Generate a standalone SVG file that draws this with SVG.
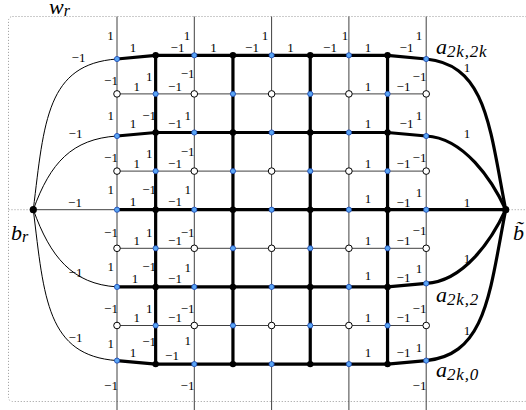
<svg xmlns="http://www.w3.org/2000/svg" width="526" height="410" viewBox="0 0 526 410">
<style>
.thin{stroke:#404040;stroke-width:1;fill:none}
.thick{stroke:#000;stroke-width:3.2;fill:none}
.crv{stroke:#000;stroke-width:1;fill:none}
.dot{stroke:#999;stroke-width:1;fill:none;stroke-dasharray:1 2}
.bl{fill:#5aa6f5;stroke:#1a44b0;stroke-width:0.8}
.wh{fill:#fff;stroke:#000;stroke-width:1}
.bk{fill:#000}
.n{font-family:"Liberation Serif",serif;font-size:13px;text-anchor:middle;fill:#000}
.m{font-family:"Liberation Serif",serif;font-style:italic;font-size:22px;fill:#000}
.s{font-size:16px}
.sa{font-size:17px;letter-spacing:0.8px}
</style>
<rect class="dot" x="8.5" y="16.5" width="520" height="385" rx="4"/>
<path class="dot" d="M8.5,209.7H33.3M505.7,209.7H526"/>
<g id="connectors">
<path class="thin" d="M117,16.5V410M194.3,16.5V410M271.6,16.5V410M348.9,16.5V410M426.2,16.5V410"/>
<path class="thin" d="M117,93.9H426.2M117,171.1H426.2M117,248.3H426.2M117,325.5H426.2"/>
<path class="thick" d="M155.65,55.3V364.1M232.95,55.3V364.1M310.25,55.3V364.1M387.55,55.3V364.1"/>
<path class="thick" d="M117,59L155.65,55.3H387.55L426.2,59"/>
<path class="thick" d="M117,136L155.65,132.5H387.55L426.2,136"/>
<path class="thick" d="M117,209.7H505.7"/>
<path class="thick" d="M117,286.9H387.55L426.2,283.4"/>
<path class="thick" d="M117,360.6L155.65,364.1H387.55L426.2,360.6"/>
<path class="crv" d="M33.3,209.7C44.1,120.6 47,64 117,59"/>
<path class="crv" d="M33.3,209.7C50.3,162.7 72,139 117,136"/>
<path class="thin" d="M33.3,209.7H117"/>
<path class="crv" d="M33.3,209.7C50.3,256.7 72,284 117,286.9"/>
<path class="crv" d="M33.3,209.7C44.1,298.8 47,355.6 117,360.6"/>
<path class="thick" d="M426.2,59C486.2,65 489.5,126.4 505.7,209.7"/>
<path class="thick" d="M426.2,136C464,138 492,180 505.7,209.7"/>
<path class="thick" d="M426.2,283.4C464,281.4 492,239.4 505.7,209.7"/>
<path class="thick" d="M426.2,360.6C486.2,354.6 489.5,293 505.7,209.7"/>
</g>
<g id="b_r"><circle class="bk" cx="33.3" cy="209.7" r="3.6"/></g>
<g id="b_tilde"><circle class="bk" cx="505.7" cy="209.7" r="3.6"/></g>
<g id="n0-0"><circle class="bl" cx="117" cy="59" r="2.6"/></g>
<g id="n1-0"><circle class="bk" cx="155.65" cy="55.3" r="3.2"/></g>
<g id="n2-0"><circle class="bl" cx="194.3" cy="55.3" r="2.6"/></g>
<g id="n3-0"><circle class="bk" cx="232.95" cy="55.3" r="3.2"/></g>
<g id="n4-0"><circle class="bl" cx="271.6" cy="55.3" r="2.6"/></g>
<g id="n5-0"><circle class="bk" cx="310.25" cy="55.3" r="3.2"/></g>
<g id="n6-0"><circle class="bl" cx="348.9" cy="55.3" r="2.6"/></g>
<g id="n7-0"><circle class="bk" cx="387.55" cy="55.3" r="3.2"/></g>
<g id="n8-0"><circle class="bl" cx="426.2" cy="59" r="2.6"/></g>
<g id="n0-1"><circle class="wh" cx="117" cy="93.9" r="3.3"/></g>
<g id="n1-1"><circle class="bl" cx="155.65" cy="93.9" r="2.6"/></g>
<g id="n2-1"><circle class="wh" cx="194.3" cy="93.9" r="3.3"/></g>
<g id="n3-1"><circle class="bl" cx="232.95" cy="93.9" r="2.6"/></g>
<g id="n4-1"><circle class="wh" cx="271.6" cy="93.9" r="3.3"/></g>
<g id="n5-1"><circle class="bl" cx="310.25" cy="93.9" r="2.6"/></g>
<g id="n6-1"><circle class="wh" cx="348.9" cy="93.9" r="3.3"/></g>
<g id="n7-1"><circle class="bl" cx="387.55" cy="93.9" r="2.6"/></g>
<g id="n8-1"><circle class="wh" cx="426.2" cy="93.9" r="3.3"/></g>
<g id="n0-2"><circle class="bl" cx="117" cy="136" r="2.6"/></g>
<g id="n1-2"><circle class="bk" cx="155.65" cy="132.5" r="3.2"/></g>
<g id="n2-2"><circle class="bl" cx="194.3" cy="132.5" r="2.6"/></g>
<g id="n3-2"><circle class="bk" cx="232.95" cy="132.5" r="3.2"/></g>
<g id="n4-2"><circle class="bl" cx="271.6" cy="132.5" r="2.6"/></g>
<g id="n5-2"><circle class="bk" cx="310.25" cy="132.5" r="3.2"/></g>
<g id="n6-2"><circle class="bl" cx="348.9" cy="132.5" r="2.6"/></g>
<g id="n7-2"><circle class="bk" cx="387.55" cy="132.5" r="3.2"/></g>
<g id="n8-2"><circle class="bl" cx="426.2" cy="136" r="2.6"/></g>
<g id="n0-3"><circle class="wh" cx="117" cy="171.1" r="3.3"/></g>
<g id="n1-3"><circle class="bl" cx="155.65" cy="171.1" r="2.6"/></g>
<g id="n2-3"><circle class="wh" cx="194.3" cy="171.1" r="3.3"/></g>
<g id="n3-3"><circle class="bl" cx="232.95" cy="171.1" r="2.6"/></g>
<g id="n4-3"><circle class="wh" cx="271.6" cy="171.1" r="3.3"/></g>
<g id="n5-3"><circle class="bl" cx="310.25" cy="171.1" r="2.6"/></g>
<g id="n6-3"><circle class="wh" cx="348.9" cy="171.1" r="3.3"/></g>
<g id="n7-3"><circle class="bl" cx="387.55" cy="171.1" r="2.6"/></g>
<g id="n8-3"><circle class="wh" cx="426.2" cy="171.1" r="3.3"/></g>
<g id="n0-4"><circle class="bl" cx="117" cy="209.7" r="2.6"/></g>
<g id="n1-4"><circle class="bk" cx="155.65" cy="209.7" r="3.2"/></g>
<g id="n2-4"><circle class="bl" cx="194.3" cy="209.7" r="2.6"/></g>
<g id="n3-4"><circle class="bk" cx="232.95" cy="209.7" r="3.2"/></g>
<g id="n4-4"><circle class="bl" cx="271.6" cy="209.7" r="2.6"/></g>
<g id="n5-4"><circle class="bk" cx="310.25" cy="209.7" r="3.2"/></g>
<g id="n6-4"><circle class="bl" cx="348.9" cy="209.7" r="2.6"/></g>
<g id="n7-4"><circle class="bk" cx="387.55" cy="209.7" r="3.2"/></g>
<g id="n8-4"><circle class="bl" cx="426.2" cy="209.7" r="2.6"/></g>
<g id="n0-5"><circle class="wh" cx="117" cy="248.3" r="3.3"/></g>
<g id="n1-5"><circle class="bl" cx="155.65" cy="248.3" r="2.6"/></g>
<g id="n2-5"><circle class="wh" cx="194.3" cy="248.3" r="3.3"/></g>
<g id="n3-5"><circle class="bl" cx="232.95" cy="248.3" r="2.6"/></g>
<g id="n4-5"><circle class="wh" cx="271.6" cy="248.3" r="3.3"/></g>
<g id="n5-5"><circle class="bl" cx="310.25" cy="248.3" r="2.6"/></g>
<g id="n6-5"><circle class="wh" cx="348.9" cy="248.3" r="3.3"/></g>
<g id="n7-5"><circle class="bl" cx="387.55" cy="248.3" r="2.6"/></g>
<g id="n8-5"><circle class="wh" cx="426.2" cy="248.3" r="3.3"/></g>
<g id="n0-6"><circle class="bl" cx="117" cy="286.9" r="2.6"/></g>
<g id="n1-6"><circle class="bk" cx="155.65" cy="286.9" r="3.2"/></g>
<g id="n2-6"><circle class="bl" cx="194.3" cy="286.9" r="2.6"/></g>
<g id="n3-6"><circle class="bk" cx="232.95" cy="286.9" r="3.2"/></g>
<g id="n4-6"><circle class="bl" cx="271.6" cy="286.9" r="2.6"/></g>
<g id="n5-6"><circle class="bk" cx="310.25" cy="286.9" r="3.2"/></g>
<g id="n6-6"><circle class="bl" cx="348.9" cy="286.9" r="2.6"/></g>
<g id="n7-6"><circle class="bk" cx="387.55" cy="286.9" r="3.2"/></g>
<g id="n8-6"><circle class="bl" cx="426.2" cy="283.4" r="2.6"/></g>
<g id="n0-7"><circle class="wh" cx="117" cy="325.5" r="3.3"/></g>
<g id="n1-7"><circle class="bl" cx="155.65" cy="325.5" r="2.6"/></g>
<g id="n2-7"><circle class="wh" cx="194.3" cy="325.5" r="3.3"/></g>
<g id="n3-7"><circle class="bl" cx="232.95" cy="325.5" r="2.6"/></g>
<g id="n4-7"><circle class="wh" cx="271.6" cy="325.5" r="3.3"/></g>
<g id="n5-7"><circle class="bl" cx="310.25" cy="325.5" r="2.6"/></g>
<g id="n6-7"><circle class="wh" cx="348.9" cy="325.5" r="3.3"/></g>
<g id="n7-7"><circle class="bl" cx="387.55" cy="325.5" r="2.6"/></g>
<g id="n8-7"><circle class="wh" cx="426.2" cy="325.5" r="3.3"/></g>
<g id="n0-8"><circle class="bl" cx="117" cy="360.6" r="2.6"/></g>
<g id="n1-8"><circle class="bk" cx="155.65" cy="364.1" r="3.2"/></g>
<g id="n2-8"><circle class="bl" cx="194.3" cy="364.1" r="2.6"/></g>
<g id="n3-8"><circle class="bk" cx="232.95" cy="364.1" r="3.2"/></g>
<g id="n4-8"><circle class="bl" cx="271.6" cy="364.1" r="2.6"/></g>
<g id="n5-8"><circle class="bk" cx="310.25" cy="364.1" r="3.2"/></g>
<g id="n6-8"><circle class="bl" cx="348.9" cy="364.1" r="2.6"/></g>
<g id="n7-8"><circle class="bk" cx="387.55" cy="364.1" r="3.2"/></g>
<g id="n8-8"><circle class="bl" cx="426.2" cy="360.6" r="2.6"/></g>
<g id="labels">
<text class="m" x="49" y="14" font-size="21">w<tspan class="s" dy="2">r</tspan></text>
<text class="m" x="11" y="240">b<tspan class="s" dy="2">r</tspan></text>
<text class="m" x="513" y="240">b̃</text>
<text class="m" x="436" y="54">a<tspan class="sa" dy="3">2k,2k</tspan></text>
<text class="m" x="436" y="302">a<tspan class="sa" dy="3">2k,2</tspan></text>
<text class="m" x="436" y="377">a<tspan class="sa" dy="3">2k,0</tspan></text>
<text class="n" x="110.5" y="40">1</text><text class="n" x="187" y="39.5">1</text><text class="n" x="265" y="39.5">1</text><text class="n" x="345" y="39.5">1</text><text class="n" x="419" y="39.5">1</text>
<text class="n" x="133" y="52">1</text><text class="n" x="177.5" y="52">−1</text><text class="n" x="213.5" y="52">1</text><text class="n" x="252" y="52">−1</text><text class="n" x="290.5" y="52">1</text><text class="n" x="330" y="52">−1</text><text class="n" x="368" y="52">1</text><text class="n" x="406.5" y="52">−1</text>
<text class="n" x="111" y="85">−1</text><text class="n" x="149.2" y="80.7">1</text><text class="n" x="187.7" y="78.3">−1</text><text class="n" x="136.7" y="90.7">1</text><text class="n" x="175" y="90.7">−1</text><text class="n" x="110.8" y="120">1</text><text class="n" x="149.2" y="120">−1</text><text class="n" x="187.8" y="120">1</text><text class="n" x="133" y="128.3">1</text><text class="n" x="175" y="128.3">−1</text>
<text class="n" x="111" y="162">−1</text><text class="n" x="149.2" y="157.5">1</text><text class="n" x="187.7" y="155.5">−1</text><text class="n" x="136.7" y="167.8">1</text><text class="n" x="175" y="167.8">−1</text><text class="n" x="110.8" y="193.5">1</text><text class="n" x="149.2" y="193.5">−1</text><text class="n" x="187.8" y="193.5">1</text><text class="n" x="133" y="206.4">1</text><text class="n" x="175" y="206.4">−1</text>
<text class="n" x="111" y="236.7">−1</text><text class="n" x="149.2" y="236.7">1</text><text class="n" x="187.7" y="236.7">−1</text><text class="n" x="136.7" y="245">1</text><text class="n" x="175" y="245">−1</text><text class="n" x="110.8" y="270.5">1</text><text class="n" x="149.2" y="270.5">−1</text><text class="n" x="187.8" y="271.5">1</text><text class="n" x="135" y="283.4">1</text><text class="n" x="175" y="283.4">−1</text>
<text class="n" x="111" y="313">−1</text><text class="n" x="149.2" y="313">1</text><text class="n" x="187.7" y="313">−1</text><text class="n" x="136.7" y="321.8">1</text><text class="n" x="175" y="321.8">−1</text><text class="n" x="110.8" y="347.5">1</text><text class="n" x="149.2" y="346">−1</text><text class="n" x="187.8" y="345">1</text><text class="n" x="133" y="356.5">1</text><text class="n" x="172" y="360">−1</text>
<text class="n" x="419.5" y="80.7">−1</text><text class="n" x="368" y="90.7">1</text><text class="n" x="403.5" y="90.7">−1</text><text class="n" x="419" y="120">1</text><text class="n" x="368" y="128.3">1</text><text class="n" x="406.5" y="128.3">−1</text>
<text class="n" x="419.5" y="161.7">−1</text><text class="n" x="368" y="168.3">1</text><text class="n" x="403.5" y="168.3">−1</text><text class="n" x="419" y="196.7">1</text><text class="n" x="368" y="203.3">1</text><text class="n" x="403.5" y="206.7">−1</text>
<text class="n" x="419.5" y="235">−1</text><text class="n" x="368" y="245">1</text><text class="n" x="403.5" y="245">−1</text><text class="n" x="419" y="273.3">1</text><text class="n" x="368" y="280">1</text><text class="n" x="403.5" y="281.7">−1</text>
<text class="n" x="419.5" y="313.3">−1</text><text class="n" x="368" y="321.7">1</text><text class="n" x="403.5" y="321.7">−1</text><text class="n" x="419" y="352">1</text><text class="n" x="368" y="357">1</text><text class="n" x="403.5" y="357">−1</text>
<text class="n" x="111" y="390">−1</text><text class="n" x="187.5" y="390">−1</text><text class="n" x="419.5" y="390">−1</text>
<text class="n" x="78.5" y="62">−1</text><text class="n" x="75.5" y="138.3">−1</text><text class="n" x="75" y="207">−1</text><text class="n" x="75.5" y="277">−1</text><text class="n" x="75.5" y="341.5">−1</text>
<text class="n" x="467" y="72">1</text><text class="n" x="467" y="138.3">1</text><text class="n" x="467" y="206.7">1</text><text class="n" x="467" y="263">1</text><text class="n" x="467" y="335">1</text>
</g>
</svg>
